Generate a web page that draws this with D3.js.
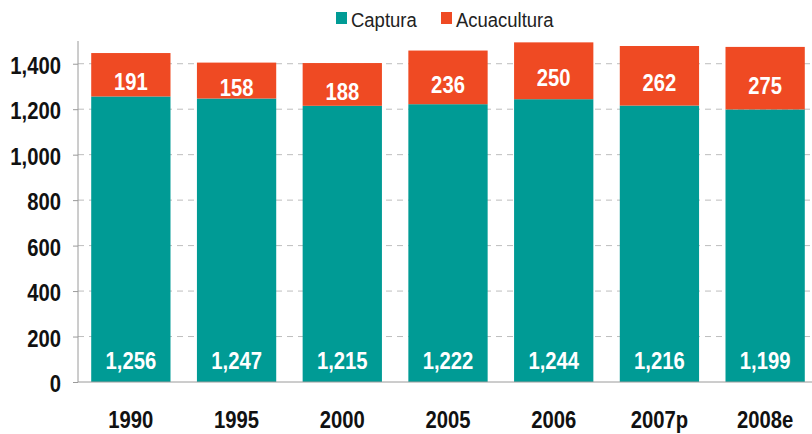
<!DOCTYPE html>
<html>
<head>
<meta charset="utf-8"/>
<script src="https://cdn.jsdelivr.net/npm/d3@7"></script>
<style>
  body { margin: 0; background: #fff; }
  svg { display: block; }
</style>
</head>
<body>
<svg id="chart" width="812" height="434"></svg>
<script>
// data
var years = ["1990", "1995", "2000", "2005", "2006", "2007p", "2008e"];
var captura = [1256, 1247, 1215, 1222, 1244, 1216, 1199];
var acuacultura = [191, 158, 188, 236, 250, 262, 275];
var yTicks = [0, 200, 400, 600, 800, 1000, 1200, 1400];
var seriesNames = ["Captura", "Acuacultura"];
var colors = ["#009B95", "#EF4A23"];

var svg = d3.select("#chart");
var fmt = d3.format(",");
var FONT = "Arial, 'Liberation Sans', Helvetica, sans-serif";

var x = d3.scaleBand().domain(years).range([78, 818]).paddingInner(0.25).paddingOuter(0.125);
var y = d3.scaleLinear().domain([0, 1500]).range([382, 41]);

// narrow-looking text, like the original
function label(g, tx, ty, txt, anchor, size, weight, fill) {
  return g.append("text")
    .attr("transform", "translate(" + tx + "," + ty + ") scale(0.88,1)")
    .attr("text-anchor", anchor)
    .style("font-family", FONT)
    .style("font-size", size + "px")
    .style("font-weight", weight)
    .style("fill", fill)
    .text(txt);
}

// grid
svg.append("g").selectAll("line")
  .data(yTicks.filter(function(d) { return d > 0; }))
  .enter().append("line")
    .attr("x1", 78).attr("x2", 812)
    .attr("y1", function(d) { return y(d); })
    .attr("y2", function(d) { return y(d); })
    .style("stroke", "#bdbdbd")
    .style("stroke-dasharray", "6,5")
    .style("stroke-width", 1);

// stacked bars
var rows = years.map(function(yr, i) { return { year: yr, Captura: captura[i], Acuacultura: acuacultura[i] }; });
var stacked = d3.stack().keys(seriesNames)(rows);

svg.append("g").selectAll("g")
  .data(stacked).enter().append("g")
    .style("fill", function(d, i) { return colors[i]; })
  .selectAll("rect")
  .data(function(d) { return d; }).enter().append("rect")
    .attr("x", function(d) { return x(d.data.year); })
    .attr("width", x.bandwidth())
    .attr("y", function(d) { return y(d[1]); })
    .attr("height", function(d) { return y(d[0]) - y(d[1]); });

// value labels
var vals = svg.append("g");
rows.forEach(function(d) {
  var cx = x(d.year) + x.bandwidth() / 2;
  label(vals, cx, 369, fmt(d.Captura), "middle", 23, "bold", "#fff");
  var mid = (y(d.Captura) + y(d.Captura + d.Acuacultura)) / 2;
  label(vals, cx, mid + 15.5, fmt(d.Acuacultura), "middle", 23, "bold", "#fff");
});

// axes
var yAxis = svg.append("g")
  .attr("transform", "translate(78,0)")
  .call(d3.axisLeft(y).tickValues(yTicks).tickFormat("").tickSize(5));
yAxis.select(".domain").attr("d", "M0," + y(1500) + "V" + y(0));

var xAxis = svg.append("g")
  .attr("transform", "translate(0,382)")
  .call(d3.axisBottom(x).tickSize(0).tickFormat(""));
xAxis.select(".domain").attr("d", "M78,0H812");
xAxis.selectAll(".sep")
  .data(years).enter().append("line")
    .attr("x1", function(d) { return x(d) - x.step() * x.paddingInner() / 2; })
    .attr("x2", function(d) { return x(d) - x.step() * x.paddingInner() / 2; })
    .attr("y1", 0).attr("y2", 7);

svg.selectAll(".domain, .tick line, .sep").style("stroke", "#9a9a9a");

var tl = svg.append("g");
yTicks.forEach(function(t) {
  label(tl, 61, y(t) + 10, fmt(t), "end", 23, "bold", "#111");
});
years.forEach(function(yr) {
  label(tl, x(yr) + x.bandwidth() / 2, 428, yr, "middle", 23, "bold", "#111");
});

// legend
var legend = svg.append("g");
var legX = [336, 441];
seriesNames.forEach(function(name, i) {
  legend.append("rect")
    .attr("x", legX[i]).attr("y", 12).attr("width", 11).attr("height", 12)
    .style("fill", colors[i]);
  label(legend, legX[i] + 15, 27, name, "start", 21, "normal", "#222");
});
</script>
</body>
</html>
